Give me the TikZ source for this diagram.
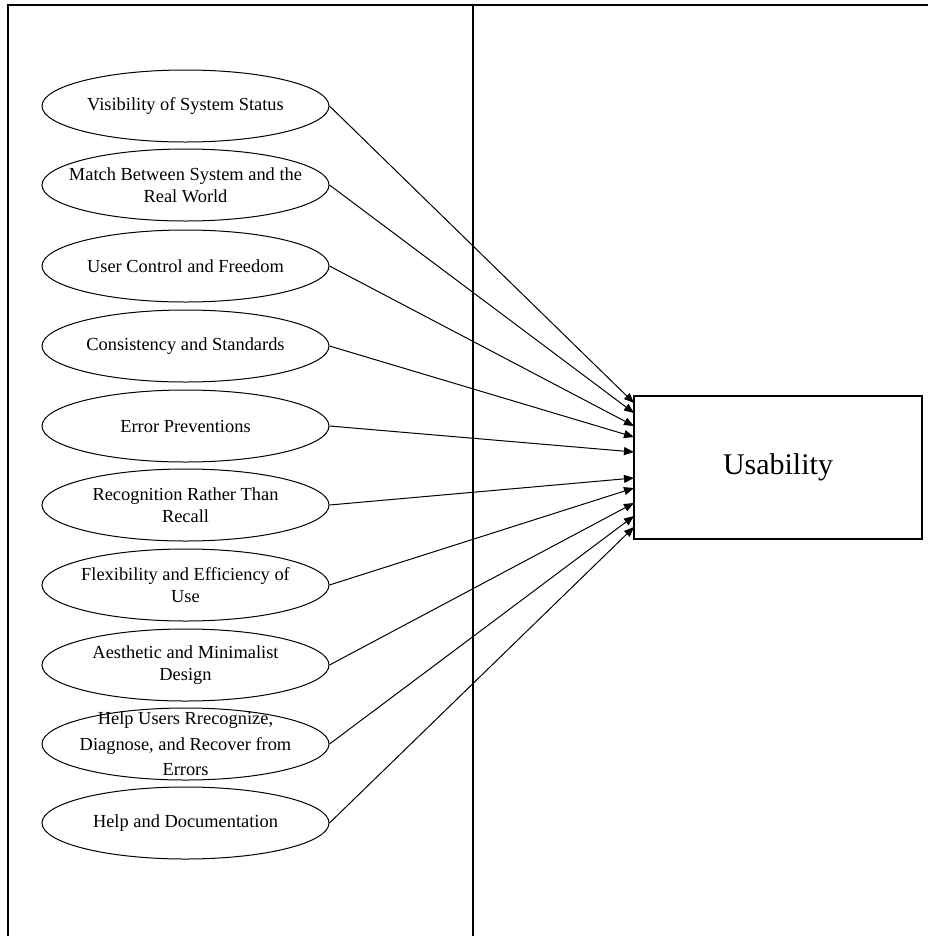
\documentclass[tikz,border=0pt]{standalone}
\usepackage{fontspec}
\setmainfont{Liberation Serif}
\usetikzlibrary{shapes.geometric,arrows.meta}
\begin{document}
\begin{tikzpicture}[x=0.75pt,y=-0.75pt,
  crit/.style={draw,ellipse,line width=0.75pt,minimum width=287*0.75pt,minimum height=72*0.75pt,inner sep=0pt},
  lbl/.style={align=center,inner sep=0pt,font=\fontsize{13.8pt}{16.5pt}\selectfont},
  lbltall/.style={align=center,inner sep=0pt,font=\fontsize{13.8pt}{19pt}\selectfont},
  goal/.style={draw,rectangle,line width=0.8pt,minimum width=288*0.75pt,minimum height=143*0.75pt,inner sep=0pt,font=\fontsize{22.5pt}{26pt}\selectfont},
  conn/.style={line width=0.75pt,-{Triangle[length=7.5pt,width=6pt]}},
  frame/.style={line width=1.1pt}]
\useasboundingbox (0,0) rectangle (928,936);
% frame lines
\coordinate (tl) at (8,5);
\coordinate (tr) at (928,5);
\coordinate (bl) at (8,936);
\coordinate (mt) at (473,5);
\coordinate (mb) at (473,936);
\draw[frame] (bl) -- (tl) -- (tr);
\draw[frame] (mt) -- (mb);
% criteria
\node[crit,label={[lbl]center:Visibility of System Status}] (c1) at (185.5,106) {};
\node[crit,label={[lbl]center:Match Between System and the\\Real World}] (c2) at (185.5,185) {};
\node[crit,label={[lbl]center:User Control and Freedom}] (c3) at (185.5,266) {};
\node[crit,label={[lbl]center:Consistency and Standards}] (c4) at (185.5,346) {};
\node[crit,label={[lbl]center:Error Preventions}] (c5) at (185.5,426) {};
\node[crit,label={[lbl]center:Recognition Rather Than\\Recall}] (c6) at (185.5,505) {};
\node[crit,label={[lbl]center:Flexibility and Efficiency of\\Use}] (c7) at (185.5,585) {};
\node[crit,label={[lbl]center:Aesthetic and Minimalist\\Design}] (c8) at (185.5,665) {};
\node[crit,label={[lbltall]center:Help Users Rrecognize,\\Diagnose, and Recover from\\Errors}] (c9) at (185.5,744) {};
\node[crit,label={[lbl]center:Help and Documentation}] (c10) at (185.5,823) {};
% goal
\node[goal] (u) at (778,467.5) {Usability};
% connectors
\foreach \i/\y in {1/403,2/413,3/426,4/437,5/452,6/478,7/488,8/503,9/516,10/527}{
  \coordinate (t\i) at (634,\y);
  \draw[conn] (c\i.east) -- (t\i);
}
\end{tikzpicture}
\end{document}
